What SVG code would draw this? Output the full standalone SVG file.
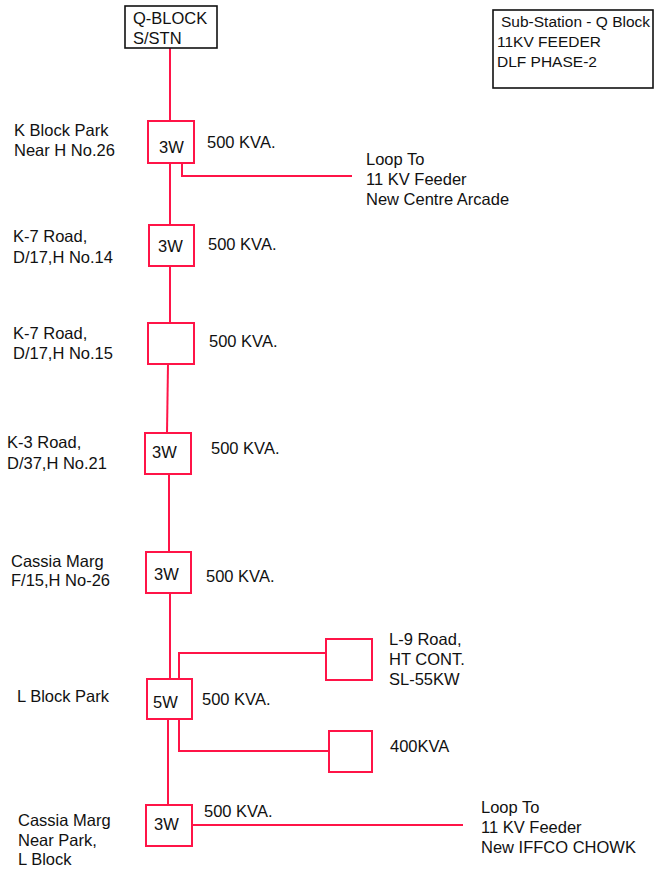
<svg xmlns="http://www.w3.org/2000/svg" width="656" height="872" viewBox="0 0 656 872">
<style>
text{font-family:"Liberation Sans",Arial,sans-serif;font-size:16.5px;fill:#111}
.sm{font-size:15.5px}
.r{fill:#fff;stroke:#ff1447;stroke-width:2}
.k{fill:#fff;stroke:#111;stroke-width:1.6}
.w{fill:none;stroke:#ff1447;stroke-width:2}
</style>
<rect width="656" height="872" fill="#fff"/>
<g id="connectors">
<polyline class="w" points="170,48 170,121"/>
<polyline class="w" points="170,163 170,225"/>
<polyline class="w" points="182,163 182,176 352,176"/>
<polyline class="w" points="170,266 170,323"/>
<polyline class="w" points="168,364 167,433"/>
<polyline class="w" points="169,474 169,552"/>
<polyline class="w" points="170,593 170,679"/>
<polyline class="w" points="179,679 179,653 326,653"/>
<polyline class="w" points="179,719 179,751 329,751"/>
<polyline class="w" points="168,719 168,805"/>
<polyline class="w" points="192,825 463,825"/>
</g>
<g id="qblock">
<rect class="k" x="125" y="6" width="92" height="42"/>
<text x="133" y="24">Q-BLOCK</text>
<text x="133" y="44">S/STN</text>
</g>
<g id="legend">
<rect class="k" x="493" y="10" width="160" height="78"/>
<text class="sm" x="501" y="27">Sub-Station - Q Block</text>
<text class="sm" x="497" y="47">11KV FEEDER</text>
<text class="sm" x="497" y="67">DLF PHASE-2</text>
</g>
<g id="n1">
<rect class="r" x="148" y="121" width="46" height="42"/>
<text x="159" y="153">3W</text>
<text x="207" y="148">500 KVA.</text>
<text x="14" y="136">K Block Park</text>
<text x="14" y="156">Near H No.26</text>
</g>
<g id="loop1">
<text x="366" y="165">Loop To</text>
<text x="366" y="185">11 KV Feeder</text>
<text x="366" y="205">New Centre Arcade</text>
</g>
<g id="n2">
<rect class="r" x="149" y="225" width="45" height="41"/>
<text x="158" y="252">3W</text>
<text x="208" y="250">500 KVA.</text>
<text x="13" y="242">K-7 Road,</text>
<text x="13" y="263">D/17,H No.14</text>
</g>
<g id="n3">
<rect class="r" x="148" y="323" width="46" height="41"/>
<text x="209" y="347">500 KVA.</text>
<text x="13" y="339">K-7 Road,</text>
<text x="13" y="359">D/17,H No.15</text>
</g>
<g id="n4">
<rect class="r" x="145" y="433" width="46" height="41"/>
<text x="152" y="458">3W</text>
<text x="211" y="454">500 KVA.</text>
<text x="7" y="448">K-3 Road,</text>
<text x="7" y="469">D/37,H No.21</text>
</g>
<g id="n5">
<rect class="r" x="146" y="552" width="45" height="41"/>
<text x="154" y="580">3W</text>
<text x="206" y="582">500 KVA.</text>
<text x="11" y="567">Cassia Marg</text>
<text x="11" y="586">F/15,H No-26</text>
</g>
<g id="n6">
<rect class="r" x="147" y="679" width="45" height="40"/>
<text x="153" y="708">5W</text>
<text x="202" y="705">500 KVA.</text>
<text x="17" y="702">L Block Park</text>
</g>
<g id="n7">
<rect class="r" x="326" y="639" width="46" height="41"/>
<text x="389" y="645">L-9 Road,</text>
<text x="389" y="665">HT CONT.</text>
<text x="389" y="685">SL-55KW</text>
</g>
<g id="n8">
<rect class="r" x="329" y="731" width="43" height="41"/>
<text x="390" y="752">400KVA</text>
</g>
<g id="n9">
<rect class="r" x="146" y="805" width="46" height="41"/>
<text x="154" y="830">3W</text>
<text x="204" y="817">500 KVA.</text>
<text x="18" y="826">Cassia Marg</text>
<text x="18" y="846">Near Park,</text>
<text x="18" y="865">L Block</text>
</g>
<g id="loop2">
<text x="481" y="813">Loop To</text>
<text x="481" y="833">11 KV Feeder</text>
<text x="481" y="853">New IFFCO CHOWK</text>
</g>
</svg>
